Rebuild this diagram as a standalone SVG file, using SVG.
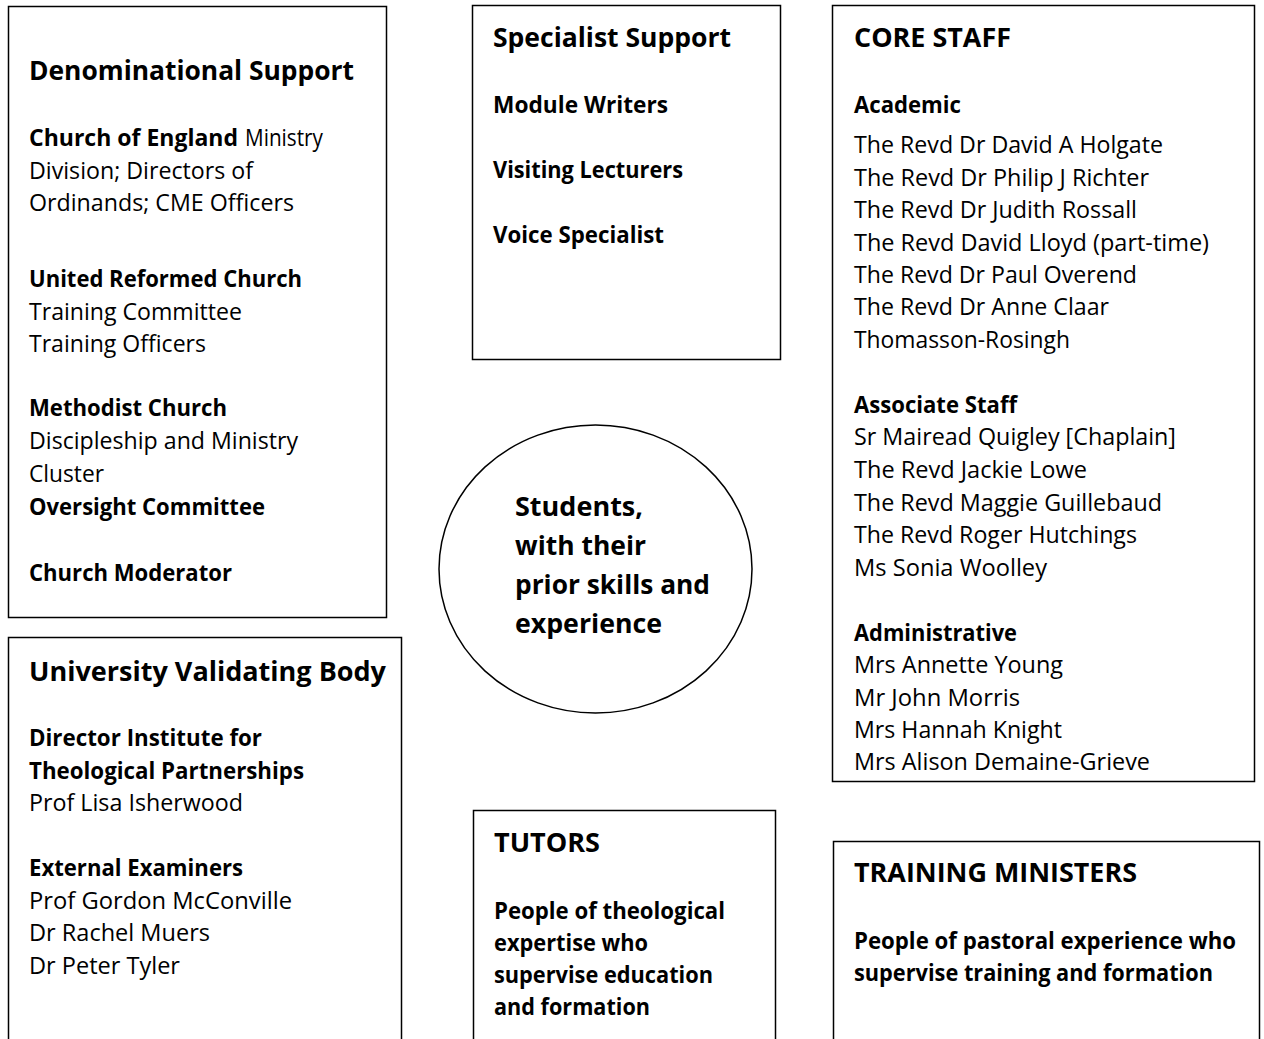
<svg xmlns="http://www.w3.org/2000/svg" width="1264" height="1039" viewBox="0 0 1264 1039">
  <style>
    .box { fill: #fff; stroke: #000; stroke-width: 1.5; }
    text { font-family: "Open Sans", "Liberation Sans", sans-serif; fill: #000; }
    .h { font-size: 26px; font-weight: 700; }
    .sb { font-size: 23px; font-weight: 700; }
    .t { font-size: 23px; font-weight: 400; }
    .lb { font-size: 23.5px; font-weight: 700; }
    .c { font-size: 27px; font-weight: 700; }
  </style>
  <rect width="1264" height="1039" fill="#fff"/>

  <!-- Denominational Support -->
  <g id="denominational-support">
    <rect class="box" x="8.5" y="6.5" width="378" height="611"/>
    <text class="h" x="29" y="80" textLength="325" lengthAdjust="spacingAndGlyphs">Denominational Support</text>
    <text class="sb" x="29" y="146" textLength="209" lengthAdjust="spacingAndGlyphs">Church of England</text>
    <text class="t" x="245" y="146" textLength="78" lengthAdjust="spacingAndGlyphs">Ministry</text>
    <text class="t" x="29" y="179" textLength="224" lengthAdjust="spacingAndGlyphs">Division; Directors of</text>
    <text class="t" x="29" y="211" textLength="265" lengthAdjust="spacingAndGlyphs">Ordinands; CME Officers</text>
    <text class="sb" x="29" y="287" textLength="273" lengthAdjust="spacingAndGlyphs">United Reformed Church</text>
    <text class="t" x="29" y="320" textLength="213" lengthAdjust="spacingAndGlyphs">Training Committee</text>
    <text class="t" x="29" y="352" textLength="177" lengthAdjust="spacingAndGlyphs">Training Officers</text>
    <text class="sb" x="29" y="416" textLength="198" lengthAdjust="spacingAndGlyphs">Methodist Church</text>
    <text class="t" x="29" y="449" textLength="269" lengthAdjust="spacingAndGlyphs">Discipleship and Ministry</text>
    <text class="t" x="29" y="482" textLength="75" lengthAdjust="spacingAndGlyphs">Cluster</text>
    <text class="sb" x="29" y="515" textLength="236" lengthAdjust="spacingAndGlyphs">Oversight Committee</text>
    <text class="sb" x="29" y="581" textLength="203" lengthAdjust="spacingAndGlyphs">Church Moderator</text>
  </g>

  <!-- University Validating Body -->
  <g id="university-validating-body">
    <rect class="box" x="8.5" y="637.5" width="393" height="420"/>
    <text class="h" x="29" y="681" textLength="357" lengthAdjust="spacingAndGlyphs">University Validating Body</text>
    <text class="sb" x="29" y="746" textLength="233" lengthAdjust="spacingAndGlyphs">Director Institute for</text>
    <text class="sb" x="29" y="779" textLength="275" lengthAdjust="spacingAndGlyphs">Theological Partnerships</text>
    <text class="t" x="29" y="811" textLength="214" lengthAdjust="spacingAndGlyphs">Prof Lisa Isherwood</text>
    <text class="sb" x="29" y="876" textLength="214" lengthAdjust="spacingAndGlyphs">External Examiners</text>
    <text class="t" x="29" y="909" textLength="263" lengthAdjust="spacingAndGlyphs">Prof Gordon McConville</text>
    <text class="t" x="29" y="941" textLength="181" lengthAdjust="spacingAndGlyphs">Dr Rachel Muers</text>
    <text class="t" x="29" y="974" textLength="151" lengthAdjust="spacingAndGlyphs">Dr Peter Tyler</text>
  </g>

  <!-- Specialist Support -->
  <g id="specialist-support">
    <rect class="box" x="472.5" y="5.5" width="308" height="354"/>
    <text class="h" x="493" y="47" textLength="238" lengthAdjust="spacingAndGlyphs">Specialist Support</text>
    <text class="sb" x="493" y="113" textLength="175" lengthAdjust="spacingAndGlyphs">Module Writers</text>
    <text class="sb" x="493" y="178" textLength="190" lengthAdjust="spacingAndGlyphs">Visiting Lecturers</text>
    <text class="sb" x="493" y="243" textLength="171" lengthAdjust="spacingAndGlyphs">Voice Specialist</text>
  </g>

  <!-- Students -->
  <g id="students">
    <ellipse class="box" cx="595.5" cy="569" rx="156.5" ry="144" stroke-width="1.3"/>
    <text class="c" x="515" y="516" textLength="128" lengthAdjust="spacingAndGlyphs">Students,</text>
    <text class="c" x="515" y="555" textLength="131" lengthAdjust="spacingAndGlyphs">with their</text>
    <text class="c" x="515" y="594" textLength="195" lengthAdjust="spacingAndGlyphs">prior skills and</text>
    <text class="c" x="515" y="633" textLength="147" lengthAdjust="spacingAndGlyphs">experience</text>
  </g>

  <!-- Core staff -->
  <g id="core-staff">
    <rect class="box" x="832.5" y="5.5" width="422" height="776"/>
    <text class="h" x="854" y="47" textLength="157" lengthAdjust="spacingAndGlyphs">CORE STAFF</text>
    <text class="sb" x="854" y="113" textLength="107" lengthAdjust="spacingAndGlyphs">Academic</text>
    <text class="t" x="854" y="153" textLength="309" lengthAdjust="spacingAndGlyphs">The Revd Dr David A Holgate</text>
    <text class="t" x="854" y="185.5" textLength="295" lengthAdjust="spacingAndGlyphs">The Revd Dr Philip J Richter</text>
    <text class="t" x="854" y="218" textLength="283" lengthAdjust="spacingAndGlyphs">The Revd Dr Judith Rossall</text>
    <text class="t" x="854" y="250.5" textLength="355" lengthAdjust="spacingAndGlyphs">The Revd David Lloyd (part-time)</text>
    <text class="t" x="854" y="283" textLength="283" lengthAdjust="spacingAndGlyphs">The Revd Dr Paul Overend</text>
    <text class="t" x="854" y="315" textLength="255" lengthAdjust="spacingAndGlyphs">The Revd Dr Anne Claar</text>
    <text class="t" x="854" y="347.5" textLength="216" lengthAdjust="spacingAndGlyphs">Thomasson-Rosingh</text>
    <text class="sb" x="854" y="413" textLength="163" lengthAdjust="spacingAndGlyphs">Associate Staff</text>
    <text class="t" x="854" y="445" textLength="322" lengthAdjust="spacingAndGlyphs">Sr Mairead Quigley [Chaplain]</text>
    <text class="t" x="854" y="478" textLength="233" lengthAdjust="spacingAndGlyphs">The Revd Jackie Lowe</text>
    <text class="t" x="854" y="511" textLength="308" lengthAdjust="spacingAndGlyphs">The Revd Maggie Guillebaud</text>
    <text class="t" x="854" y="543" textLength="283" lengthAdjust="spacingAndGlyphs">The Revd Roger Hutchings</text>
    <text class="t" x="854" y="576" textLength="193" lengthAdjust="spacingAndGlyphs">Ms Sonia Woolley</text>
    <text class="sb" x="854" y="641" textLength="163" lengthAdjust="spacingAndGlyphs">Administrative</text>
    <text class="t" x="854" y="673" textLength="209" lengthAdjust="spacingAndGlyphs">Mrs Annette Young</text>
    <text class="t" x="854" y="706" textLength="166" lengthAdjust="spacingAndGlyphs">Mr John Morris</text>
    <text class="t" x="854" y="738" textLength="208" lengthAdjust="spacingAndGlyphs">Mrs Hannah Knight</text>
    <text class="t" x="854" y="770" textLength="296" lengthAdjust="spacingAndGlyphs">Mrs Alison Demaine-Grieve</text>
  </g>

  <!-- Tutors -->
  <g id="tutors">
    <rect class="box" x="473.5" y="810.5" width="302" height="250"/>
    <text class="h" x="494" y="852" textLength="106" lengthAdjust="spacingAndGlyphs">TUTORS</text>
    <text class="lb" x="494" y="919" textLength="231" lengthAdjust="spacingAndGlyphs">People of theological</text>
    <text class="lb" x="494" y="951" textLength="154" lengthAdjust="spacingAndGlyphs">expertise who</text>
    <text class="lb" x="494" y="983" textLength="219" lengthAdjust="spacingAndGlyphs">supervise education</text>
    <text class="lb" x="494" y="1015" textLength="156" lengthAdjust="spacingAndGlyphs">and formation</text>
  </g>

  <!-- Training ministers -->
  <g id="training-ministers">
    <rect class="box" x="833.5" y="841.5" width="426" height="220"/>
    <text class="h" x="854" y="882" textLength="283" lengthAdjust="spacingAndGlyphs">TRAINING MINISTERS</text>
    <text class="lb" x="854" y="949" textLength="382" lengthAdjust="spacingAndGlyphs">People of pastoral experience who</text>
    <text class="lb" x="854" y="981" textLength="359" lengthAdjust="spacingAndGlyphs">supervise training and formation</text>
  </g>
</svg>
